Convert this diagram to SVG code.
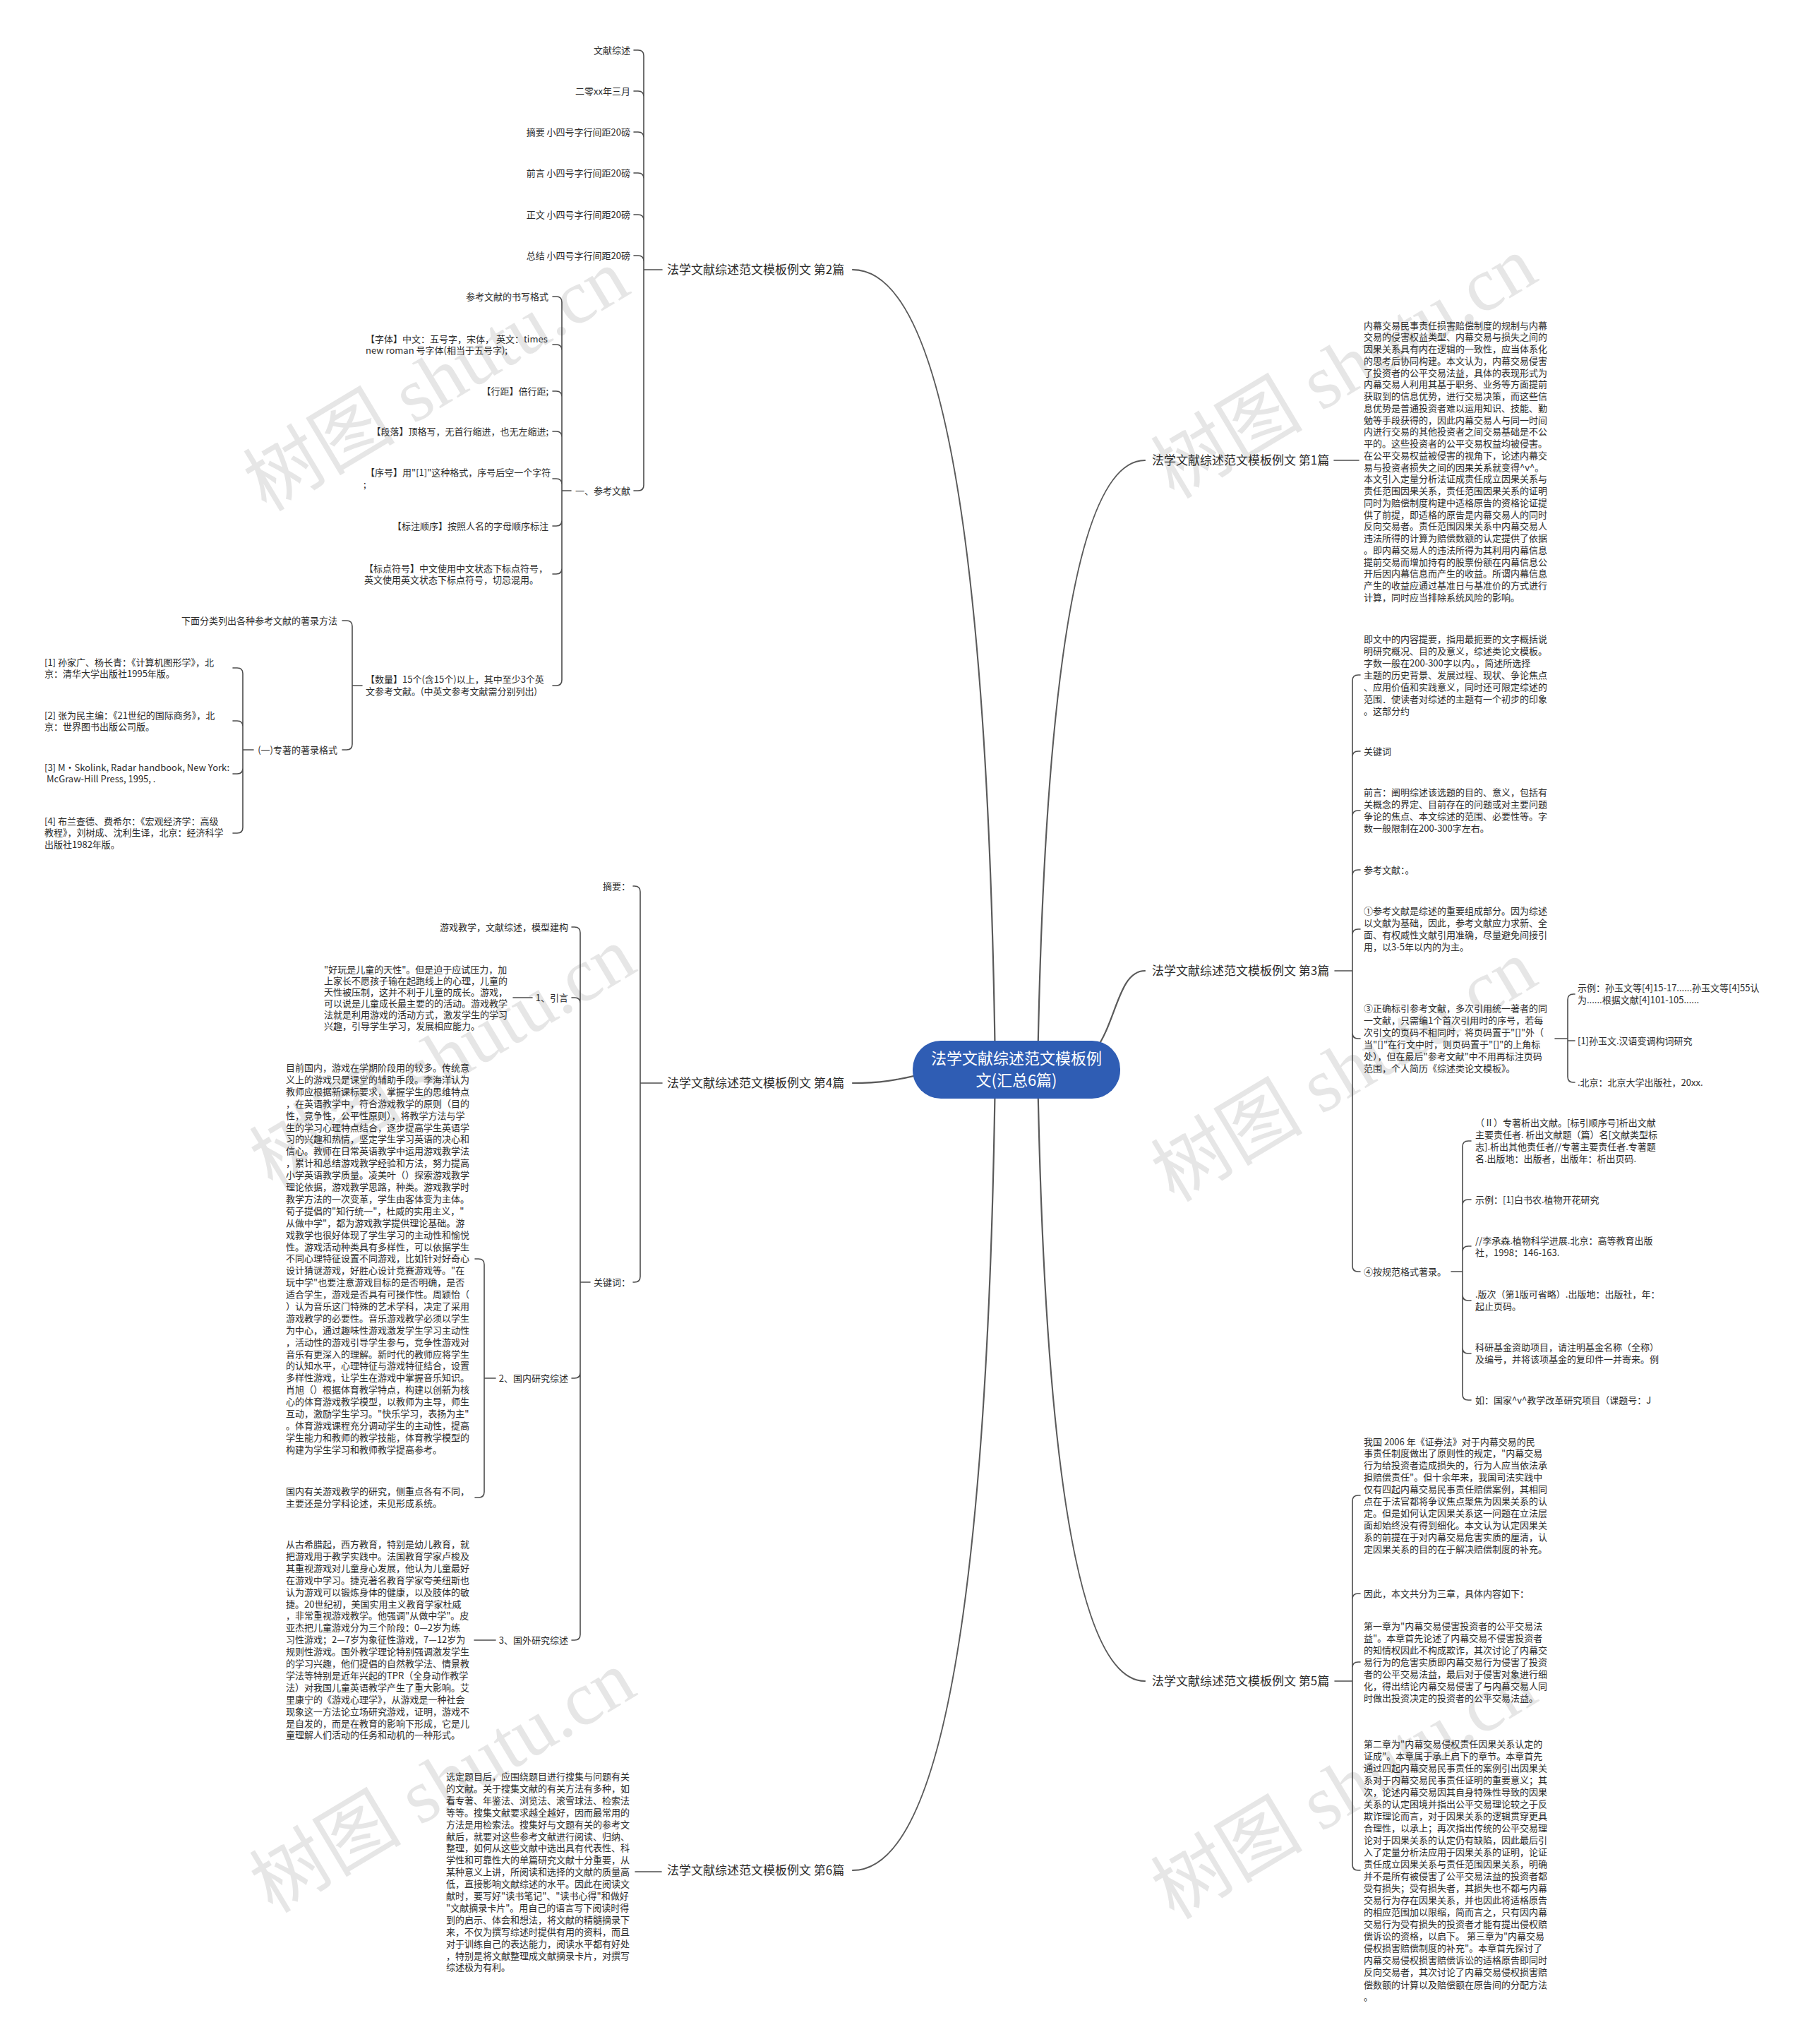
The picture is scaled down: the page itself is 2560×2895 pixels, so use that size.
<svg xmlns="http://www.w3.org/2000/svg" width="2560" height="2895" viewBox="0 0 2560 2895">
<defs>
<style>
.t{font-family:"Noto Sans CJK SC","Noto Sans",sans-serif;font-size:13px;fill:#2b2b2b}
.e{text-anchor:end}
.l1{font-family:"Noto Sans CJK SC","Noto Sans",sans-serif;font-size:17px;fill:#2b2b2b}
.ln{fill:none;stroke:#4d4d4d;stroke-width:1.6;stroke-linecap:round}
.mc{fill:none;stroke:#5a5a5a;stroke-width:2.2;stroke-linecap:round}
.wm{font-family:"Liberation Serif","Noto Sans CJK SC",serif;font-size:108px;fill:#e6e6e6;text-anchor:middle}
.root{fill:#2f5db4}
.rt{font-family:"Noto Sans CJK SC","Noto Sans",sans-serif;font-size:22px;fill:#ffffff;text-anchor:middle}
</style>
</defs>
<rect width="2560" height="2895" fill="#ffffff"/>
<g id="watermarks">
<text class="wm" transform="translate(637,570) rotate(-31)">树图 shutu.cn</text>
<text class="wm" transform="translate(646,1530) rotate(-31)">树图 shutu.cn</text>
<text class="wm" transform="translate(646,2555) rotate(-31)">树图 shutu.cn</text>
<text class="wm" transform="translate(1923,552) rotate(-31)">树图 shutu.cn</text>
<text class="wm" transform="translate(1923,1548) rotate(-31)">树图 shutu.cn</text>
<text class="wm" transform="translate(1923,2564) rotate(-31)">树图 shutu.cn</text>
</g>
<g id="connectors">
<path class="mc" d="M1410,1514 Q1395,382 1208,382"/>
<path class="mc" d="M1380,1514 C1300,1514 1290,1534 1208,1534"/>
<path class="mc" d="M1410,1514 Q1395,2649 1208,2649"/>
<path class="mc" d="M1470,1514 Q1485,652 1622,652"/>
<path class="mc" d="M1500,1514 C1585,1514 1570,1375 1622,1375"/>
<path class="mc" d="M1470,1514 Q1485,2381 1622,2381"/>
<path class="ln" d="M938,382 H912 M912,382 V79 Q912,71 904,71 H898 M912,382 V137 Q912,129 904,129 H898 M912,382 V195 Q912,187 904,187 H898 M912,382 V253 Q912,245 904,245 H898 M912,382 V312 Q912,304 904,304 H898 M912,382 V370 Q912,362 904,362 H898 M912,382 V687 Q912,695 904,695 H898"/>
<path class="ln" d="M809,695 H796 M796,695 V428 Q796,420 788,420 H783 M796,695 V496 Q796,488 788,488 H783 M796,695 V562 Q796,554 788,554 H783 M796,695 V619 Q796,611 788,611 H783 M796,695 V686 Q796,678 788,678 H783 M796,695 V737 Q796,745 788,745 H783 M796,695 V805 Q796,813 788,813 H783 M796,695 V963 Q796,971 788,971 H783"/>
<path class="ln" d="M513,971 H499 M499,971 V887 Q499,879 491,879 H485 M499,971 V1054 Q499,1062 491,1062 H485"/>
<path class="ln" d="M359,1062 H344 M344,1062 V954 Q344,946 336,946 H330 M344,1062 V1029 Q344,1021 336,1021 H330 M344,1062 V1088 Q344,1096 336,1096 H330 M344,1062 V1172 Q344,1180 336,1180 H330"/>
<path class="ln" d="M938,1534 H907 M907,1534 V1263 Q907,1255 899,1255 H897 M907,1534 V1808 Q907,1816 899,1816 H897"/>
<path class="ln" d="M836,1816 H822 M822,1816 V1321 Q822,1313 814,1313 H810 M822,1816 V1421 Q822,1413 814,1413 H810 M822,1816 V1944 Q822,1952 814,1952 H810 M822,1816 V2315 Q822,2323 814,2323 H810"/>
<path class="ln" d="M754,1413 H727"/>
<path class="ln" d="M702,1952 H686 M686,1952 V1791 Q686,1783 678,1783 H673 M686,1952 V2113 Q686,2121 678,2121 H673"/>
<path class="ln" d="M702,2323 H672"/>
<path class="ln" d="M937,2651 H900"/>
<path class="ln" d="M1890,652 H1925"/>
<path class="ln" d="M1891,1375 H1916 M1916,1375 V964 Q1916,956 1924,956 H1927 M1916,1375 V1072 Q1916,1064 1924,1064 H1927 M1916,1375 V1156 Q1916,1148 1924,1148 H1927 M1916,1375 V1240 Q1916,1232 1924,1232 H1927 M1916,1375 V1324 Q1916,1316 1924,1316 H1927 M1916,1375 V1463 Q1916,1471 1924,1471 H1927 M1916,1375 V1793 Q1916,1801 1924,1801 H1927"/>
<path class="ln" d="M2203,1471 H2221 M2221,1471 V1416 Q2221,1408 2229,1408 H2231 M2221,1474 H2231 M2221,1471 V1525 Q2221,1533 2229,1533 H2231"/>
<path class="ln" d="M2056,1801 H2072 M2072,1801 V1624 Q2072,1616 2080,1616 H2084 M2072,1801 V1707 Q2072,1699 2080,1699 H2084 M2072,1801 V1773 Q2072,1765 2080,1765 H2084 M2072,1801 V1834 Q2072,1842 2080,1842 H2084 M2072,1801 V1909 Q2072,1917 2080,1917 H2084 M2072,1801 V1975 Q2072,1983 2080,1983 H2084"/>
<path class="ln" d="M1891,2381 H1916 M1916,2381 V2126 Q1916,2118 1924,2118 H1927 M1916,2381 V2265 Q1916,2257 1924,2257 H1927 M1916,2381 V2362 Q1916,2354 1924,2354 H1927 M1916,2381 V2641 Q1916,2649 1924,2649 H1927"/>
</g>
<g id="root">
<rect class="root" x="1293" y="1474" width="294" height="82" rx="40"/>
<text class="rt" x="1440" y="1507">法学文献综述范文模板例</text>
<text class="rt" x="1440" y="1538">文(汇总6篇)</text>
</g>
<g id="n2">
<text class="l1" x="945" y="388">法学文献综述范文模板例文 第2篇</text>
</g>
<g id="n2-children">
<text class="t e" x="893" y="75.5">文献综述</text>
<text class="t e" x="893" y="133.5">二零xx年三月</text>
<text class="t e" x="893" y="191.5">摘要 小四号字行间距20磅</text>
<text class="t e" x="893" y="249.5">前言 小四号字行间距20磅</text>
<text class="t e" x="893" y="308.5">正文 小四号字行间距20磅</text>
<text class="t e" x="893" y="366.5">总结 小四号字行间距20磅</text>
<text class="t e" x="893" y="699.5">一、参考文献</text>
</g>
<g id="n2-ref">
<text class="t e" x="777" y="424.5">参考文献的书写格式</text>
<text class="t" x="518" y="484.5"><tspan x="518">【字体】中文：五号字，宋体， 英文：times</tspan><tspan x="518" dy="16">new roman 号字体(相当于五号字);</tspan></text>
<text class="t e" x="777" y="558.5">【行距】倍行距;</text>
<text class="t e" x="777" y="615.5">【段落】顶格写，无首行缩进，也无左缩进;</text>
<text class="t" x="518" y="674"><tspan x="518">【序号】用"[1]"这种格式，序号后空一个字符</tspan><tspan x="515" dy="17">;</tspan></text>
<text class="t e" x="777" y="749.5">【标注顺序】按照人名的字母顺序标注</text>
<text class="t" x="516" y="809.5"><tspan x="516">【标点符号】中文使用中文状态下标点符号，</tspan><tspan x="516" dy="16.5">英文使用英文状态下标点符号，切忌混用。</tspan></text>
<text class="t" x="518" y="966.5"><tspan x="518">【数量】15个(含15个)以上，其中至少3个英</tspan><tspan x="518" dy="17">文参考文献。(中英文参考文献需分别列出)</tspan></text>
</g>
<g id="n2-qty">
<text class="t e" x="478" y="883.5">下面分类列出各种参考文献的著录方法</text>
<text class="t e" x="478" y="1066.5">(一)专著的著录格式</text>
<text class="t" x="63" y="942.5"><tspan x="63">[1] 孙家广、杨长青：《计算机图形学》，北</tspan><tspan x="63" dy="16.5">京：清华大学出版社1995年版。</tspan></text>
<text class="t" x="63" y="1017.5"><tspan x="63">[2] 张为民主编：《21世纪的国际商务》，北</tspan><tspan x="63" dy="16.5">京：世界图书出版公司版。</tspan></text>
<text class="t" x="63" y="1091.5"><tspan x="63">[3] M·Skolink, Radar handbook, New York:</tspan><tspan x="66" dy="16.5">McGraw-Hill Press, 1995, .</tspan></text>
<text class="t" x="63" y="1167.5"><tspan x="63">[4] 布兰查德、费希尔：《宏观经济学：高级</tspan><tspan x="63" dy="16.5">教程》，刘树成、沈利生译，北京：经济科学</tspan><tspan x="63" dy="16.5">出版社1982年版。</tspan></text>
</g>
<g id="n4">
<text class="l1" x="945" y="1540">法学文献综述范文模板例文 第4篇</text>
</g>
<g id="n4-children">
<text class="t e" x="893" y="1259.5">摘要：</text>
<text class="t e" x="893" y="1820.5">关键词：</text>
<text class="t e" x="805" y="1317.5">游戏教学，文献综述，模型建构</text>
<text class="t e" x="805" y="1417.5">1、引言</text>
<text class="t e" x="805" y="1956.5">2、国内研究综述</text>
<text class="t e" x="805" y="2327.5">3、国外研究综述</text>
<text class="t" x="459" y="1377.5"><tspan x="459">"好玩是儿童的天性"。但是迫于应试压力，加</tspan><tspan x="459" dy="16">上家长不愿孩子输在起跑线上的心理，儿童的</tspan><tspan x="459" dy="16">天性被压制，这并不利于儿童的成长。游戏，</tspan><tspan x="459" dy="16">可以说是儿童成长最主要的的活动。游戏教学</tspan><tspan x="459" dy="16">法就是利用游戏的活动方式，激发学生的学习</tspan><tspan x="459" dy="16">兴趣，引导学生学习，发展相应能力。</tspan></text>
<text class="t" x="405" y="1517"><tspan x="405">目前国内，游戏在学期阶段用的较多。传统意</tspan><tspan x="405" dy="16.9">义上的游戏只是课堂的辅助手段。李海洋认为</tspan><tspan x="405" dy="16.9">教师应根据新课标要求，掌握学生的思维特点</tspan><tspan x="405" dy="16.9">，在英语教学中，符合游戏教学的原则（目的</tspan><tspan x="405" dy="16.9">性，竞争性，公平性原则），将教学方法与学</tspan><tspan x="405" dy="16.9">生的学习心理特点结合，逐步提高学生英语学</tspan><tspan x="405" dy="16.9">习的兴趣和热情，坚定学生学习英语的决心和</tspan><tspan x="405" dy="16.9">信心。教师在日常英语教学中运用游戏教学法</tspan><tspan x="405" dy="16.9">，累计和总结游戏教学经验和方法，努力提高</tspan><tspan x="405" dy="16.9">小学英语教学质量。凌美叶（）探索游戏教学</tspan><tspan x="405" dy="16.9">理论依据，游戏教学思路，种类。游戏教学时</tspan><tspan x="405" dy="16.9">教学方法的一次变革，学生由客体变为主体。</tspan><tspan x="405" dy="16.9">荀子提倡的"知行统一"，杜威的实用主义，"</tspan><tspan x="405" dy="16.9">从做中学"，都为游戏教学提供理论基础。游</tspan><tspan x="405" dy="16.9">戏教学也很好体现了学生学习的主动性和愉悦</tspan><tspan x="405" dy="16.9">性。游戏活动种类具有多样性，可以依据学生</tspan><tspan x="405" dy="16.9">不同心理特征设置不同游戏，比如针对好奇心</tspan><tspan x="405" dy="16.9">设计猜谜游戏，好胜心设计竞赛游戏等。"在</tspan><tspan x="405" dy="16.9">玩中学"也要注意游戏目标的是否明确，是否</tspan><tspan x="405" dy="16.9">适合学生，游戏是否具有可操作性。周颖怡（</tspan><tspan x="405" dy="16.9">）认为音乐这门特殊的艺术学科，决定了采用</tspan><tspan x="405" dy="16.9">游戏教学的必要性。音乐游戏教学必须以学生</tspan><tspan x="405" dy="16.9">为中心，通过趣味性游戏激发学生学习主动性</tspan><tspan x="405" dy="16.9">，活动性的游戏引导学生参与，竞争性游戏对</tspan><tspan x="405" dy="16.9">音乐有更深入的理解。新时代的教师应将学生</tspan><tspan x="405" dy="16.9">的认知水平，心理特征与游戏特征结合，设置</tspan><tspan x="405" dy="16.9">多样性游戏，让学生在游戏中掌握音乐知识。</tspan><tspan x="405" dy="16.9">肖旭（）根据体育教学特点，构建以创新为核</tspan><tspan x="405" dy="16.9">心的体育游戏教学模型，以教师为主导，师生</tspan><tspan x="405" dy="16.9">互动，激励学生学习。"快乐学习，表扬为主"</tspan><tspan x="405" dy="16.9">。体育游戏课程充分调动学生的主动性，提高</tspan><tspan x="405" dy="16.9">学生能力和教师的教学技能，体育教学模型的</tspan><tspan x="405" dy="16.9">构建为学生学习和教师教学提高参考。</tspan></text>
<text class="t" x="405" y="2116.5"><tspan x="405">国内有关游戏教学的研究，侧重点各有不同，</tspan><tspan x="405" dy="17">主要还是分学科论述，未见形成系统。</tspan></text>
<text class="t" x="405" y="2192"><tspan x="405">从古希腊起，西方教育，特别是幼儿教育，就</tspan><tspan x="405" dy="16.9">把游戏用于教学实践中。法国教育学家卢梭及</tspan><tspan x="405" dy="16.9">其重视游戏对儿童身心发展，他认为儿童最好</tspan><tspan x="405" dy="16.9">在游戏中学习。捷克著名教育学家夸美纽斯也</tspan><tspan x="405" dy="16.9">认为游戏可以锻炼身体的健康，以及肢体的敏</tspan><tspan x="405" dy="16.9">捷。20世纪初，美国实用主义教育学家杜威</tspan><tspan x="405" dy="16.9">，非常重视游戏教学。他强调"从做中学"。皮</tspan><tspan x="405" dy="16.9">亚杰把儿童游戏分为三个阶段：0—2岁为练</tspan><tspan x="405" dy="16.9">习性游戏；2—7岁为象征性游戏，7—12岁为</tspan><tspan x="405" dy="16.9">规则性游戏。国外教学理论特别强调激发学生</tspan><tspan x="405" dy="16.9">的学习兴趣，他们提倡的自然教学法、情景教</tspan><tspan x="405" dy="16.9">学法等特别是近年兴起的TPR（全身动作教学</tspan><tspan x="405" dy="16.9">法）对我国儿童英语教学产生了重大影响。艾</tspan><tspan x="405" dy="16.9">里康宁的《游戏心理学》，从游戏是一种社会</tspan><tspan x="405" dy="16.9">现象这一方法论立场研究游戏，证明，游戏不</tspan><tspan x="405" dy="16.9">是自发的，而是在教育的影响下形成，它是儿</tspan><tspan x="405" dy="16.9">童理解人们活动的任务和动机的一种形式。</tspan></text>
</g>
<g id="n6">
<text class="l1" x="945" y="2655">法学文献综述范文模板例文 第6篇</text>
<text class="t" x="632" y="2521"><tspan x="632">选定题目后，应围绕题目进行搜集与问题有关</tspan><tspan x="632" dy="16.9">的文献。关于搜集文献的有关方法有多种，如</tspan><tspan x="632" dy="16.9">看专著、年鉴法、浏览法、滚雪球法、检索法</tspan><tspan x="632" dy="16.9">等等。搜集文献要求越全越好，因而最常用的</tspan><tspan x="632" dy="16.9">方法是用检索法。搜集好与文题有关的参考文</tspan><tspan x="632" dy="16.9">献后，就要对这些参考文献进行阅读、归纳、</tspan><tspan x="632" dy="16.9">整理，如何从这些文献中选出具有代表性、科</tspan><tspan x="632" dy="16.9">学性和可靠性大的单篇研究文献十分重要，从</tspan><tspan x="632" dy="16.9">某种意义上讲，所阅读和选择的文献的质量高</tspan><tspan x="632" dy="16.9">低，直接影响文献综述的水平。因此在阅读文</tspan><tspan x="632" dy="16.9">献时，要写好"读书笔记"、"读书心得"和做好</tspan><tspan x="632" dy="16.9">"文献摘录卡片"。用自己的语言写下阅读时得</tspan><tspan x="632" dy="16.9">到的启示、体会和想法，将文献的精髓摘录下</tspan><tspan x="632" dy="16.9">来，不仅为撰写综述时提供有用的资料，而且</tspan><tspan x="632" dy="16.9">对于训练自己的表达能力，阅读水平都有好处</tspan><tspan x="632" dy="16.9">，特别是将文献整理成文献摘录卡片，对撰写</tspan><tspan x="632" dy="16.9">综述极为有利。</tspan></text>
</g>
<g id="n1">
<text class="l1" x="1632" y="658">法学文献综述范文模板例文 第1篇</text>
<text class="t" x="1932" y="465.5"><tspan x="1932">内幕交易民事责任损害赔偿制度的规制与内幕</tspan><tspan x="1932" dy="16.75">交易的侵害权益类型、内幕交易与损失之间的</tspan><tspan x="1932" dy="16.75">因果关系具有内在逻辑的一致性，应当体系化</tspan><tspan x="1932" dy="16.75">的思考后协同构建。本文认为，内幕交易侵害</tspan><tspan x="1932" dy="16.75">了投资者的公平交易法益，具体的表现形式为</tspan><tspan x="1932" dy="16.75">内幕交易人利用其基于职务、业务等方面提前</tspan><tspan x="1932" dy="16.75">获取到的信息优势，进行交易决策，而这些信</tspan><tspan x="1932" dy="16.75">息优势是普通投资者难以运用知识、技能、勤</tspan><tspan x="1932" dy="16.75">勉等手段获得的，因此内幕交易人与同一时间</tspan><tspan x="1932" dy="16.75">内进行交易的其他投资者之间交易基础是不公</tspan><tspan x="1932" dy="16.75">平的。这些投资者的公平交易权益均被侵害。</tspan><tspan x="1932" dy="16.75">在公平交易权益被侵害的视角下，论述内幕交</tspan><tspan x="1932" dy="16.75">易与投资者损失之间的因果关系就变得^v^。</tspan><tspan x="1932" dy="16.75">本文引入定量分析法证成责任成立因果关系与</tspan><tspan x="1932" dy="16.75">责任范围因果关系，责任范围因果关系的证明</tspan><tspan x="1932" dy="16.75">同时为赔偿制度构建中适格原告的资格论证提</tspan><tspan x="1932" dy="16.75">供了前提，即适格的原告是内幕交易人的同时</tspan><tspan x="1932" dy="16.75">反向交易者。责任范围因果关系中内幕交易人</tspan><tspan x="1932" dy="16.75">违法所得的计算为赔偿数额的认定提供了依据</tspan><tspan x="1932" dy="16.75">。即内幕交易人的违法所得为其利用内幕信息</tspan><tspan x="1932" dy="16.75">提前交易而增加持有的股票份额在内幕信息公</tspan><tspan x="1932" dy="16.75">开后因内幕信息而产生的收益。所谓内幕信息</tspan><tspan x="1932" dy="16.75">产生的收益应通过基准日与基准价的方式进行</tspan><tspan x="1932" dy="16.75">计算，同时应当排除系统风险的影响。</tspan></text>
</g>
<g id="n3">
<text class="l1" x="1632" y="1381">法学文献综述范文模板例文 第3篇</text>
<text class="t" x="1932" y="909.5"><tspan x="1932">即文中的内容提要，指用最扼要的文字概括说</tspan><tspan x="1932" dy="17">明研究概况、目的及意义，综述类论文模板。</tspan><tspan x="1932" dy="17">字数一般在200-300字以内。，简述所选择</tspan><tspan x="1932" dy="17">主题的历史背景、发展过程、现状、争论焦点</tspan><tspan x="1932" dy="17">、应用价值和实践意义，同时还可限定综述的</tspan><tspan x="1932" dy="17">范围．使读者对综述的主题有一个初步的印象</tspan><tspan x="1932" dy="17">。这部分约</tspan></text>
<text class="t" x="1932" y="1068.5">关键词</text>
<text class="t" x="1932" y="1127"><tspan x="1932">前言：阐明综述该选题的目的、意义，包括有</tspan><tspan x="1932" dy="17">关概念的界定、目前存在的问题或对主要问题</tspan><tspan x="1932" dy="17">争论的焦点、本文综述的范围、必要性等。字</tspan><tspan x="1932" dy="17">数一般限制在200-300字左右。</tspan></text>
<text class="t" x="1932" y="1236.5">参考文献：。</text>
<text class="t" x="1932" y="1295"><tspan x="1932">①参考文献是综述的重要组成部分。因为综述</tspan><tspan x="1932" dy="17">以文献为基础，因此，参考文献应力求新、全</tspan><tspan x="1932" dy="17">面、有权威性文献引用准确，尽量避免间接引</tspan><tspan x="1932" dy="17">用，以3-5年以内的为主。</tspan></text>
<text class="t" x="1932" y="1433"><tspan x="1932">③正确标引参考文献，多次引用统一著者的同</tspan><tspan x="1932" dy="17">一文献，只需编1个首次引用时的序号，若每</tspan><tspan x="1932" dy="17">次引文的页码不相同时，将页码置于"[]"外（</tspan><tspan x="1932" dy="17">当"[]"在行文中时，则页码置于"[]"的上角标</tspan><tspan x="1932" dy="17">处），但在最后"参考文献"中不用再标注页码</tspan><tspan x="1932" dy="17">范围，个人简历《综述类论文模板》。</tspan></text>
<text class="t" x="1932" y="1805.5">④按规范格式著录。</text>
<text class="t" x="2235" y="1403.5"><tspan x="2235">示例：孙玉文等[4]15-17......孙玉文等[4]55认</tspan><tspan x="2235" dy="17">为......根据文献[4]101-105......</tspan></text>
<text class="t" x="2235" y="1478.5">[1]孙玉文.汉语变调构词研究</text>
<text class="t" x="2235" y="1537.5">.北京：北京大学出版社，20xx.</text>
<text class="t" x="2090" y="1594.5"><tspan x="2090">（Ⅱ）专著析出文献。[标引顺序号]析出文献</tspan><tspan x="2090" dy="17.3">主要责任者. 析出文献题（篇）名[文献类型标</tspan><tspan x="2090" dy="17.3">志].析出其他责任者//专著主要责任者.专著题</tspan><tspan x="2090" dy="17.3">名.出版地：出版者，出版年：析出页码.</tspan></text>
<text class="t" x="2090" y="1703.5">示例：[1]白书农.植物开花研究</text>
<text class="t" x="2090" y="1761.5"><tspan x="2090">//李承森.植物科学进展.北京：高等教育出版</tspan><tspan x="2090" dy="17">社，1998：146-163.</tspan></text>
<text class="t" x="2090" y="1837.5"><tspan x="2090">.版次（第1版可省略）.出版地：出版社，年：</tspan><tspan x="2090" dy="17">起止页码。</tspan></text>
<text class="t" x="2090" y="1912.5"><tspan x="2090">科研基金资助项目，请注明基金名称（全称）</tspan><tspan x="2090" dy="17">及编号，并将该项基金的复印件一并寄来。例</tspan></text>
<text class="t" x="2090" y="1987.5">如：国家^v^教学改革研究项目（课题号：J</text>
</g>
<g id="n5">
<text class="l1" x="1632" y="2387">法学文献综述范文模板例文 第5篇</text>
<text class="t" x="1932" y="2046.5"><tspan x="1932">我国 2006 年《证券法》对于内幕交易的民</tspan><tspan x="1932" dy="16.9">事责任制度做出了原则性的规定，"内幕交易</tspan><tspan x="1932" dy="16.9">行为给投资者造成损失的，行为人应当依法承</tspan><tspan x="1932" dy="16.9">担赔偿责任"。但十余年来，我国司法实践中</tspan><tspan x="1932" dy="16.9">仅有四起内幕交易民事责任赔偿案例，其相同</tspan><tspan x="1932" dy="16.9">点在于法官都将争议焦点聚焦为因果关系的认</tspan><tspan x="1932" dy="16.9">定。但是如何认定因果关系这一问题在立法层</tspan><tspan x="1932" dy="16.9">面却始终没有得到细化。本文认为认定因果关</tspan><tspan x="1932" dy="16.9">系的前提在于对内幕交易危害实质的厘清，认</tspan><tspan x="1932" dy="16.9">定因果关系的目的在于解决赔偿制度的补充。</tspan></text>
<text class="t" x="1932" y="2261.5">因此，本文共分为三章，具体内容如下：</text>
<text class="t" x="1932" y="2308"><tspan x="1932">第一章为"内幕交易侵害投资者的公平交易法</tspan><tspan x="1932" dy="17">益"。本章首先论述了内幕交易不侵害投资者</tspan><tspan x="1932" dy="17">的知情权因此不构成欺诈，其次讨论了内幕交</tspan><tspan x="1932" dy="17">易行为的危害实质即内幕交易行为侵害了投资</tspan><tspan x="1932" dy="17">者的公平交易法益，最后对于侵害对象进行细</tspan><tspan x="1932" dy="17">化，得出结论内幕交易侵害了与内幕交易人同</tspan><tspan x="1932" dy="17">时做出投资决定的投资者的公平交易法益。</tspan></text>
<text class="t" x="1932" y="2474.5"><tspan x="1932">第二章为"内幕交易侵权责任因果关系认定的</tspan><tspan x="1932" dy="17.05">证成"。本章属于承上启下的章节。本章首先</tspan><tspan x="1932" dy="17.05">通过四起内幕交易民事责任的案例引出因果关</tspan><tspan x="1932" dy="17.05">系对于内幕交易民事责任证明的重要意义；其</tspan><tspan x="1932" dy="17.05">次，论述内幕交易因其自身特殊性导致的因果</tspan><tspan x="1932" dy="17.05">关系的认定困境并指出公平交易理论较之于反</tspan><tspan x="1932" dy="17.05">欺诈理论而言，对于因果关系的逻辑贯穿更具</tspan><tspan x="1932" dy="17.05">合理性，以承上；再次指出传统的公平交易理</tspan><tspan x="1932" dy="17.05">论对于因果关系的认定仍有缺陷，因此最后引</tspan><tspan x="1932" dy="17.05">入了定量分析法应用于因果关系的证明，论证</tspan><tspan x="1932" dy="17.05">责任成立因果关系与责任范围因果关系，明确</tspan><tspan x="1932" dy="17.05">并不是所有被侵害了公平交易法益的投资者都</tspan><tspan x="1932" dy="17.05">受有损失；受有损失者，其损失也不都与内幕</tspan><tspan x="1932" dy="17.05">交易行为存在因果关系，并也因此将适格原告</tspan><tspan x="1932" dy="17.05">的相应范围加以限缩，简而言之，只有因内幕</tspan><tspan x="1932" dy="17.05">交易行为受有损失的投资者才能有提出侵权赔</tspan><tspan x="1932" dy="17.05">偿诉讼的资格，以启下。 第三章为"内幕交易</tspan><tspan x="1932" dy="17.05">侵权损害赔偿制度的补充"。本章首先探讨了</tspan><tspan x="1932" dy="17.05">内幕交易侵权损害赔偿诉讼的适格原告即同时</tspan><tspan x="1932" dy="17.05">反向交易者，其次讨论了内幕交易侵权损害赔</tspan><tspan x="1932" dy="17.05">偿数额的计算以及赔偿额在原告间的分配方法</tspan><tspan x="1932" dy="17.05">。</tspan></text>
</g>
</svg>
